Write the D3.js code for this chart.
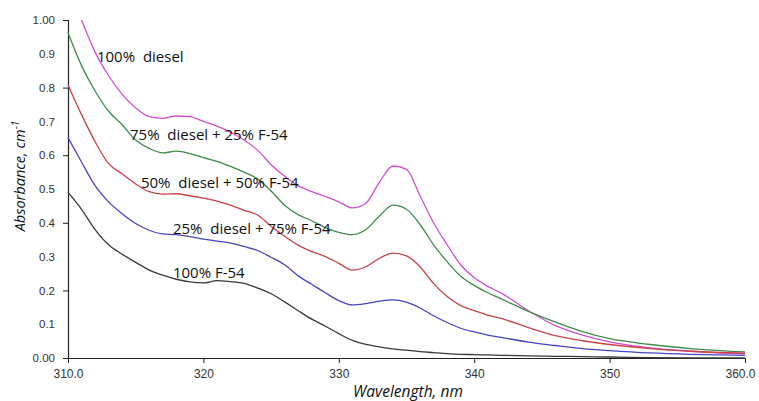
<!DOCTYPE html>
<html>
<head>
<meta charset="utf-8">
<script src="https://cdn.jsdelivr.net/npm/d3@7"></script>
<style>
  body { margin: 0; background: #fff; }
  svg { display: block; }
  .tick text { font-family: "Liberation Sans", Arial, sans-serif; fill: #333; }
  .lbl { font-family: "Open Sans", sans-serif; font-size: 15px; fill: #111; white-space: pre; }
  .title { font-family: "Open Sans", sans-serif; font-style: italic; fill: #111; }
</style>
</head>
<body>
<div id="chart"></div>
<script>
// longitudes de onda compartidas (nm)
const wavelengths = [310, 311, 312, 313, 314, 315, 316, 317, 318, 319, 320, 321, 322, 323, 324, 325,
  326, 327, 328, 329, 330, 331, 332, 333, 334, 335, 336, 337, 338, 339, 340, 341, 342, 344, 346,
  348, 350, 353, 356, 360];

// absorbancia de cada mezcla
const diesel100 = [null, 1.00, 0.905, 0.835, 0.78, 0.74, 0.714, 0.709, 0.716, 0.714, 0.700, 0.686,
  0.668, 0.645, 0.615, 0.572, 0.538, 0.51, 0.492, 0.478, 0.462, 0.444, 0.458, 0.52, 0.568, 0.558,
  0.48, 0.40, 0.335, 0.276, 0.238, 0.212, 0.192, 0.14, 0.096, 0.068, 0.048, 0.03, 0.02, 0.012];
const diesel75 = [0.962, 0.865, 0.79, 0.73, 0.69, 0.645, 0.62, 0.607, 0.612, 0.605, 0.593, 0.582,
  0.567, 0.55, 0.53, 0.494, 0.452, 0.424, 0.406, 0.386, 0.372, 0.365, 0.38, 0.42, 0.452, 0.44,
  0.395, 0.335, 0.285, 0.242, 0.215, 0.193, 0.175, 0.138, 0.106, 0.078, 0.057, 0.04, 0.028, 0.018];
const diesel50 = [0.808, 0.72, 0.64, 0.575, 0.545, 0.515, 0.492, 0.485, 0.486, 0.48, 0.473, 0.464,
  0.452, 0.437, 0.423, 0.39, 0.36, 0.334, 0.315, 0.3, 0.28, 0.26, 0.27, 0.295, 0.31, 0.302,
  0.27, 0.22, 0.182, 0.155, 0.14, 0.127, 0.117, 0.09, 0.066, 0.051, 0.04, 0.028, 0.02, 0.014];
const diesel25 = [0.652, 0.58, 0.51, 0.462, 0.427, 0.398, 0.378, 0.367, 0.365, 0.359, 0.352, 0.346,
  0.34, 0.33, 0.318, 0.298, 0.276, 0.243, 0.218, 0.193, 0.17, 0.157, 0.161, 0.168, 0.172, 0.165,
  0.148, 0.125, 0.105, 0.088, 0.077, 0.068, 0.061, 0.047, 0.037, 0.028, 0.022, 0.015, 0.011, 0.008];
const f54 = [0.49, 0.44, 0.38, 0.335, 0.307, 0.283, 0.26, 0.245, 0.233, 0.225, 0.222, 0.229,
  0.226, 0.221, 0.207, 0.19, 0.166, 0.14, 0.115, 0.094, 0.072, 0.052, 0.04, 0.033, 0.027, 0.023,
  0.019, 0.016, 0.013, 0.011, 0.01, 0.009, 0.008, 0.006, 0.005, 0.004, 0.003, 0.001, 0.0, 0.0];

const seriesNames = ["100%  diesel", "75%  diesel + 25% F-54", "50%  diesel + 50% F-54",
  "25%  diesel + 75% F-54", "100% F-54"];
const seriesValues = [diesel100, diesel75, diesel50, diesel25, f54];
const seriesColors = ["#d24fd0", "#418a4c", "#c8434a", "#4646c4", "#3a3a3a"];

// ticks
const yTickValues = [0, 0.1, 0.2, 0.3, 0.4, 0.5, 0.6, 0.7, 0.8, 0.9, 1.0];
const yTickLabels = ["0.00", "0.1", "0.2", "0.3", "0.4", "0.5", "0.6", "0.7", "0.8", "0.9", "1.00"];
const xTickValues = [310, 320, 330, 340, 350, 360];
const xTickLabels = ["310.0", "320", "330", "340", "350", "360.0"];

const width = 759, height = 401;
const margin = { top: 20, right: 14, bottom: 43, left: 68 };

const svg = d3.select("#chart").append("svg")
  .attr("width", width)
  .attr("height", height);

const x = d3.scaleLinear().domain([310, 360]).range([margin.left, width - margin.right]);
const y = d3.scaleLinear().domain([0, 1]).range([height - margin.bottom, margin.top]);

// eje Y: etiquetas cada 0.1, marcas cada 0.2
const yAxis = svg.append("g")
  .attr("transform", `translate(${margin.left},0)`)
  .call(d3.axisLeft(y)
    .tickValues(yTickValues)
    .tickFormat((d, i) => yTickLabels[i])
    .tickSize(5)
    .tickPadding(8));
yAxis.selectAll(".tick line")
  .attr("stroke", "#222")
  .attr("opacity", (d, i) => i % 2 === 0 ? 1 : 0);
yAxis.selectAll(".tick text").attr("font-size", 11.5);
yAxis.select(".domain").attr("stroke", "#222").attr("stroke-width", 1.2);

// eje X
const xAxis = svg.append("g")
  .attr("transform", `translate(0,${height - margin.bottom})`)
  .call(d3.axisBottom(x)
    .tickValues(xTickValues)
    .tickFormat((d, i) => xTickLabels[i])
    .tickSize(5)
    .tickSizeOuter(0)
    .tickPadding(6));
xAxis.selectAll(".tick line").attr("stroke", "#222");
xAxis.selectAll(".tick text").attr("font-size", 12);
// la última etiqueta se desplaza un poco para que quepa
xAxis.selectAll(".tick text").filter((d, i) => i === xTickValues.length - 1).attr("dx", -5);
xAxis.select(".domain").attr("stroke", "#222").attr("stroke-width", 1.2);

// curvas
const line = d3.line()
  .defined(d => d[1] !== null)
  .x(d => x(d[0]))
  .y(d => y(d[1]))
  .curve(d3.curveMonotoneX);

svg.selectAll(".serie")
  .data(seriesValues)
  .enter().append("path")
  .attr("class", "serie")
  .attr("fill", "none")
  .attr("stroke", (d, i) => seriesColors[i])
  .attr("stroke-width", 1.3)
  .attr("d", vals => line(wavelengths.map((w, j) => [w, vals[j]])));

// etiquetas de las curvas (posición en unidades de datos)
const labelAt = [[312.14, 0.876], [314.58, 0.645], [315.39, 0.503], [317.75, 0.367], [317.75, 0.237]];
svg.selectAll(".lbl")
  .data(seriesNames)
  .enter().append("text")
  .attr("class", "lbl")
  .attr("x", (d, i) => x(labelAt[i][0]))
  .attr("y", (d, i) => y(labelAt[i][1]))
  .text(d => d);

// títulos de ejes
svg.append("text")
  .attr("class", "title")
  .attr("font-size", 15.5)
  .attr("text-anchor", "middle")
  .attr("x", 408)
  .attr("y", 397)
  .text("Wavelength, nm");

const yt = svg.append("text")
  .attr("class", "title")
  .attr("font-size", 14.5)
  .attr("text-anchor", "middle")
  .attr("transform", "translate(25,176) rotate(-90)");
yt.append("tspan").text("Absorbance, cm");
yt.append("tspan").attr("font-size", 10).attr("dy", -6).text("-1");
</script>
</body>
</html>
